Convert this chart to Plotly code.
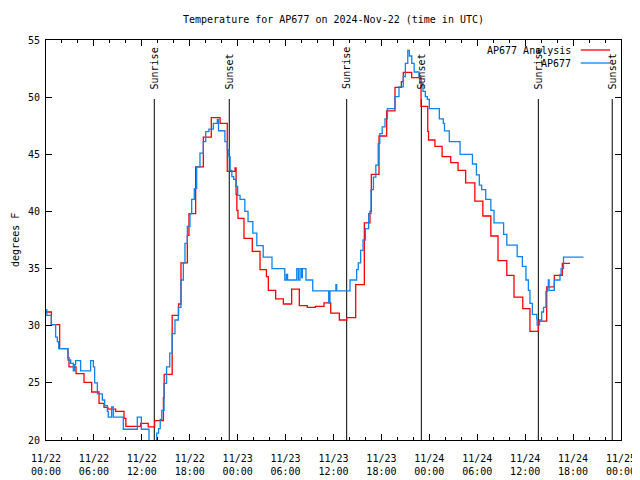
import pandas as pd
import plotly.graph_objects as go

BASE = pd.Timestamp("2024-11-22 00:00")

# AP677 Analysis (red) : hours since 11/22 00:00 UTC, degrees F
analysis_hours = [0, 0.67, 1.71, 2.75, 2.88, 3.76, 4.76, 5.72, 6.64, 7.26, 7.76, 8.72, 9.77, 10.0,
                  11.85, 12.8, 13.6, 14.7, 14.8, 15.8, 16.6, 16.9, 17.7, 17.9, 18.74, 19.7, 20.7,
                  21.8, 22.7, 23.67, 23.8, 23.9, 24.04, 24.79, 25.83, 26.8, 27.6, 27.84, 28.76,
                  29.72, 30.76, 31.72, 32.72, 33.72, 34.81, 35.65, 36.73, 37.65, 38.78, 39.86,
                  40.57, 40.74, 41.7, 42.66, 43.7, 44.5, 44.74, 45.79, 46.96, 47.8, 47.9, 48.7,
                  49.6, 50.68, 51.6, 52.55, 53.7, 54.7, 55.7, 56.6, 57.7, 58.6, 59.7, 60.6,
                  61.65, 62.7, 63.65, 64.65, 65.6]
analysis_temp = [31.2, 30.1, 28.0, 27.2, 26.4, 25.8, 25.05, 24.2, 23.2, 22.85, 22.7, 22.5, 21.9, 21.2,
                 21.45, 21.15, 21.7, 23.7, 25.75, 30.9, 31.9, 35.5, 37.9, 39.8, 43.9, 46.5, 48.2,
                 47.7, 43.5, 43.8, 41.5, 40.1, 39.4, 37.65, 36.5, 34.9, 34.3, 33.1, 32.35,
                 31.9, 33.2, 31.75, 31.6, 31.7, 32.0, 31.1, 30.5, 30.7, 33.6, 39.0,
                 40.0, 43.25, 46.6, 48.8, 50.86, 51.35, 52.17, 51.7, 49.2, 47.0, 46.25, 45.7,
                 44.8, 44.27, 43.6, 42.5, 40.9, 39.6, 37.85, 35.7, 34.4, 32.5, 31.5, 29.5,
                 30.4, 33.4, 34.4, 35.45, 35.45]

# AP677 observations (blue)
obs_hours = [0, 0.1, 0.67, 1.21, 1.42, 1.59, 2.75, 3.09, 3.42, 3.59, 3.71, 4.34, 5.59, 5.93, 6.09,
             6.43, 7.05, 7.35, 7.68, 7.8, 8.22, 8.43, 9.68, 11.43, 11.94, 12.9, 13.86, 14.1, 14.3,
             14.5, 14.78, 15.1, 15.5, 15.8, 16.15, 16.57, 16.9, 17.2, 17.4, 17.7, 18.03, 18.24,
             18.57, 18.87, 19.28, 19.7, 20.0, 20.4, 20.95, 21.45, 21.6, 22.4, 22.7, 22.9, 23.06,
             23.27, 23.5, 23.8, 24.0, 24.3, 24.9, 25.3, 25.9, 26.4, 27.2, 28.3, 29.9, 30.1, 30.25,
             31.4, 31.6, 31.8, 32.0, 32.1, 32.55, 33.4, 35.4, 35.56, 36.3, 36.4, 38.07, 38.9,
             39.1, 39.4, 39.7, 40.0, 40.4, 40.7, 41.0, 41.3, 41.6, 41.8, 42.1, 42.45, 42.75,
             43.7, 44.2, 44.74, 45.0, 45.3, 45.5, 45.8, 46.1, 46.7, 46.8, 47.2, 47.5, 47.75,
             48.0, 49.25, 49.75, 49.9, 50.5, 51.85, 53.4, 53.9, 54.26, 54.55, 55.06, 55.7, 56.1,
             57.3, 57.7, 59.0, 59.65, 60.1, 60.4, 60.6, 60.9, 61.45, 61.5, 61.8, 62.07, 62.3,
             62.6, 62.8, 62.9, 63.0, 63.65, 64.36, 64.5, 64.8, 67.3]
obs_temp = [31.4, 30.9, 30.1, 29.0, 28.6, 28.0, 27.0, 26.7, 26.04, 26.6, 26.94, 26.04, 26.94, 26.4, 25.0,
            24.03, 23.5, 23.0, 22.5, 22.0, 22.9, 22.0, 20.94, 22.0, 20.94, 19.5, 20.6, 21.0, 21.8,
            22.6, 24.96, 26.4, 27.6, 29.3, 30.5, 31.6, 34.0, 35.5, 37.2, 38.7, 39.8, 41.06,
            42.0, 43.9, 45.1, 46.1, 46.98, 47.2, 47.7, 48.06, 47.06, 46.1, 45.4, 44.8, 43.6,
            43.05, 42.8, 42.2, 41.4, 41.06, 40.0, 39.1, 38.1, 37.0, 36.0, 35.0, 34.0, 34.5, 34.0,
            35.0, 34.0, 35.0, 34.2, 35.0, 34.0, 33.04, 32.0, 33.04, 33.6, 33.04, 34.0, 34.9,
            35.5, 36.6, 37.5, 38.5, 39.8, 41.9, 43.0, 44.06, 45.96, 46.8, 47.4, 48.1, 49.0,
            50.04, 50.9, 51.8, 52.96, 54.1, 53.6, 52.96, 52.2, 51.8, 51.2, 50.5, 50.04, 49.8,
            49.0, 48.1, 47.7, 47.04, 46.1, 45.0, 44.15, 43.2, 42.3, 41.9, 41.06, 40.1, 39.0,
            38.0, 37.06, 36.04, 35.2, 34.0, 33.1, 31.96, 31.0, 30.6, 30.06, 30.5, 31.2, 31.6,
            33.0, 33.4, 34.0, 33.1, 34.0, 34.5, 35.0, 36.0, 36.0]

sun_hours = [13.56, 22.95, 37.65, 47.0, 61.65, 70.9]
sun_labels = ["Sunrise", "Sunset", "Sunrise", "Sunset", "Sunrise", "Sunset"]

y_ticks = [20, 25, 30, 35, 40, 45, 50, 55]

FONT = "DejaVu Sans Mono"
RED = "#ff0000"
BLUE = "#0a84f0"

# the page body has an 8px default margin; figure sized to end at the window edge
W, H = 632, 472


def to_time(hours):
    return [BASE + pd.Timedelta(hours=h) for h in hours]


fig = go.Figure()
fig.add_trace(go.Scatter(x=to_time(analysis_hours), y=analysis_temp, mode="lines",
                         line=dict(color=RED, width=1.3, shape="hv"), name="AP677 Analysis",
                         showlegend=False))
fig.add_trace(go.Scatter(x=to_time(obs_hours), y=obs_temp, mode="lines",
                         line=dict(color=BLUE, width=1.3, shape="hv"), name="AP677",
                         showlegend=False))

for t, lab in zip(to_time(sun_hours), sun_labels):
    fig.add_shape(type="line", x0=t, x1=t, xref="x", yref="paper", y0=0, y1=0.8525,
                  line=dict(color="black", width=1), layer="below")
    fig.add_annotation(x=t, xref="x", y=0.872, yref="paper", text=lab, textangle=-90,
                       showarrow=False, xanchor="center", yanchor="bottom",
                       font=dict(family=FONT, size=10, color="black"))

# gnuplot-style key (text then sample line)
key = [("AP677 Analysis", RED, 0.975), ("AP677", BLUE, 0.9425)]
for txt, col, yy in key:
    fig.add_annotation(x=0.9165, xref="paper", y=yy, yref="paper", text=txt, showarrow=False,
                       xanchor="right", yanchor="middle",
                       font=dict(family=FONT, size=10, color="black"))
    fig.add_shape(type="line", xref="paper", yref="paper", x0=0.930, x1=0.981, y0=yy, y1=yy,
                  line=dict(color=col, width=1.3))

fig.add_annotation(x=-0.054, xref="paper", y=0.5, yref="paper", text="degrees F",
                   textangle=-90, showarrow=False, xanchor="center", yanchor="middle",
                   font=dict(family=FONT, size=10, color="black"))

fig.update_layout(
    width=W, height=H,
    margin=dict(l=38, r=19, t=32, b=40),
    paper_bgcolor="white", plot_bgcolor="white",
    font=dict(family=FONT, size=10, color="black"),
    title=dict(text="Temperature for AP677 on 2024-Nov-22 (time in UTC)", x=0.5, xref="paper",
               y=1 - 11 / H, yref="container", xanchor="center", yanchor="middle",
               font=dict(family=FONT, size=10, color="black")),
    showlegend=False,
)
fig.update_xaxes(
    type="date", range=[BASE, BASE + pd.Timedelta(hours=72)],
    tickformat="%m/%d<br>%H:%M", dtick=6 * 3600 * 1000, tick0=BASE,
    ticks="inside", ticklen=6, tickcolor="black", tickwidth=1,
    minor=dict(dtick=2 * 3600 * 1000, tick0=BASE, ticks="inside", ticklen=3, tickcolor="black"),
    showline=True, linecolor="black", linewidth=1, mirror="ticks",
    showgrid=False, zeroline=False, automargin=False, ticklabelstandoff=9,
    tickfont=dict(family=FONT, size=10, color="black"),
)
fig.update_yaxes(
    range=[20, 55], tickvals=y_ticks, ticks="inside", ticklen=6, tickcolor="black",
    showline=True, linecolor="black", linewidth=1, mirror="ticks",
    showgrid=False, zeroline=False, automargin=False, ticklabelstandoff=3,
    tickfont=dict(family=FONT, size=10, color="black"),
)

fig.write_html("out.html")
